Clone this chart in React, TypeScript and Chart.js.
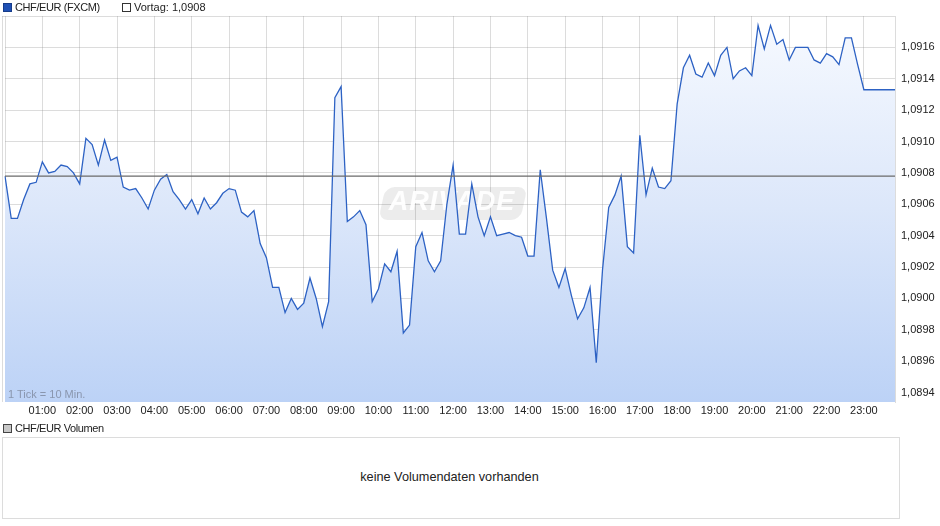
import React, { useEffect, useRef } from "react";
import { Chart, registerables } from "chart.js";
Chart.register(...registerables);

const FONT = "'Liberation Sans', Arial, sans-serif";

// 10-minute ticks from 00:00 to 23:50
const times: string[] = Array.from({ length: 144 }, (_, i) =>
  `${String(Math.floor(i / 6)).padStart(2, "0")}:${String((i % 6) * 10).padStart(2, "0")}`
);

const prices: number[] = [
  1.09078, 1.09051, 1.09051, 1.09063, 1.09073, 1.09074, 1.09087, 1.0908, 1.09081, 1.09085, 1.09084, 1.0908,
  1.09073, 1.09102, 1.09098, 1.09085, 1.09101, 1.09088, 1.0909, 1.09071, 1.09069, 1.0907, 1.09064, 1.09057,
  1.09069, 1.09076, 1.09079, 1.09068, 1.09063, 1.09057, 1.09063, 1.09054, 1.09064, 1.09057, 1.09061, 1.09067,
  1.0907, 1.09069, 1.09055, 1.09052, 1.09056, 1.09035, 1.09026, 1.09007, 1.09007, 1.08991, 1.09, 1.08993,
  1.08997, 1.09013, 1.09, 1.08982, 1.08998, 1.09128, 1.09135, 1.09049, 1.09052, 1.09056, 1.09047, 1.08998,
  1.09006, 1.09022, 1.09017, 1.0903, 1.08978, 1.08983, 1.09033, 1.09042, 1.09024, 1.09017, 1.09024, 1.0906,
  1.09085, 1.09041, 1.09041, 1.09073, 1.09052, 1.0904, 1.09052, 1.0904, 1.09041, 1.09042, 1.0904, 1.09039,
  1.09027, 1.09027, 1.09082, 1.09051, 1.09018, 1.09007, 1.09019, 1.09002, 1.08987, 1.08994, 1.09007, 1.08959,
  1.09018, 1.09058, 1.09066, 1.09078, 1.09033, 1.09029, 1.09104, 1.09066, 1.09083, 1.09071, 1.0907, 1.09075,
  1.09124, 1.09147, 1.09155, 1.09143, 1.09141, 1.0915, 1.09142, 1.09155, 1.0916, 1.0914, 1.09145, 1.09147,
  1.09142, 1.09174, 1.09159, 1.09174, 1.09162, 1.09165, 1.09152, 1.0916, 1.0916, 1.0916, 1.09152, 1.0915,
  1.09156, 1.09154, 1.09149, 1.09166, 1.09166, 1.09149, 1.09133, 1.09133, 1.09133, 1.09133, 1.09133, 1.09133,
];

const previousClose = 1.09078;
const yTicks: number[] = [1.0894, 1.0896, 1.0898, 1.09, 1.0902, 1.0904, 1.0906, 1.0908, 1.091, 1.0912, 1.0914, 1.0916];
const yMin = 1.08934;
const yMax = 1.0918;

const GRID = "rgba(150,150,150,0.33)";

const decorPlugin = {
  id: "decor",
  beforeDatasetsDraw(chart: any) {
    const ctx = chart.ctx as CanvasRenderingContext2D;
    ctx.save();
    ctx.translate(453, 203);
    ctx.transform(1, 0, -0.22, 1, 0, 0);
    ctx.fillStyle = "rgba(0,0,0,0.075)";
    ctx.beginPath();
    (ctx as any).roundRect(-71, -16, 142, 33, 9);
    ctx.fill();
    ctx.restore();
    ctx.save();
    ctx.font = `italic bold 27px ${FONT}`;
    ctx.fillStyle = "rgba(255,255,255,0.95)";
    ctx.textAlign = "center";
    ctx.textBaseline = "middle";
    (ctx as any).letterSpacing = "1px";
    ctx.fillText("ARIVADE", 452, 203);
    ctx.restore();
  },
  afterDraw(chart: any) {
    const ctx = chart.ctx as CanvasRenderingContext2D;
    const a = chart.chartArea;
    ctx.save();
    ctx.strokeStyle = GRID;
    ctx.lineWidth = 1;
    ctx.beginPath();
    ctx.moveTo(2, Math.round(a.top) + 0.5);
    ctx.lineTo(a.right, Math.round(a.top) + 0.5);
    ctx.moveTo(2.5, a.top);
    ctx.lineTo(2.5, a.bottom);
    ctx.stroke();
    ctx.restore();
  },
};

function PriceChart() {
  const ref = useRef<HTMLCanvasElement>(null);
  useEffect(() => {
    if (!ref.current) return;
    const chart = new Chart(ref.current, {
      type: "line",
      data: {
        labels: times,
        datasets: [
          {
            label: "Vortag",
            data: times.map(() => previousClose),
            borderColor: "#6a6a6a",
            borderWidth: 1.2,
            pointRadius: 0,
            fill: false,
            order: 0,
          },
          {
            label: "CHF/EUR (FXCM)",
            data: prices,
            borderColor: "#2d62c4",
            borderWidth: 1.3,
            pointRadius: 0,
            tension: 0,
            fill: "start",
            order: 1,
            backgroundColor: (c: any) => {
              const area = c.chart.chartArea;
              if (!area) return "rgba(200,218,248,0.8)";
              const g = c.chart.ctx.createLinearGradient(0, area.top, 0, area.bottom);
              g.addColorStop(0, "#f7faff");
              g.addColorStop(0.5, "#dce7fa");
              g.addColorStop(1, "#bcd2f6");
              return g;
            },
          },
        ],
      },
      options: {
        animation: false,
        responsive: false,
        maintainAspectRatio: false,
        layout: { padding: { left: 5, top: 16, right: 0, bottom: 0 } },
        plugins: { legend: { display: false }, tooltip: { enabled: false } },
        scales: {
          x: {
            type: "category",
            z: 1,
            grid: {
              drawTicks: false,
              color: (c: any) => (c.index % 6 === 0 ? GRID : "rgba(0,0,0,0)"),
            },
            border: { display: false },
            ticks: {
              autoSkip: false,
              maxRotation: 0,
              minRotation: 0,
              padding: 2,
              color: "#222",
              font: { family: FONT, size: 11 },
              callback: (_v: any, i: number) => (i % 6 === 0 && i > 0 ? times[i] : ""),
            },
            afterFit: (s: any) => {
              s.height = 18;
            },
          },
          y: {
            position: "right",
            min: yMin,
            max: yMax,
            z: 1,
            grid: { drawTicks: false, color: GRID },
            border: { display: true, color: GRID },
            ticks: {
              padding: 6,
              color: "#222",
              font: { family: FONT, size: 11 },
              callback: (v: any) => Number(v).toFixed(4).replace(".", ","),
            },
            afterBuildTicks: (s: any) => {
              s.ticks = yTicks.map((v) => ({ value: v }));
            },
            afterFit: (s: any) => {
              s.width = 45;
            },
          },
        },
      },
      plugins: [decorPlugin],
    } as any);
    return () => chart.destroy();
  }, []);
  return <canvas ref={ref} width={940} height={420} style={{ position: "absolute", left: 0, top: 0, width: 940, height: 420 }} />;
}

const box = (bg: string, border: string): React.CSSProperties => ({
  position: "absolute",
  width: 7,
  height: 7,
  background: bg,
  border: `1px solid ${border}`,
});

const txt: React.CSSProperties = {
  position: "absolute",
  fontFamily: FONT,
  fontSize: 11,
  color: "#222",
  lineHeight: "14px",
  whiteSpace: "nowrap",
};

export default function App() {
  return (
    <div style={{ position: "absolute", left: 0, top: 0, width: 940, height: 526, background: "#fff", overflow: "hidden" }}>
      <PriceChart />
      <div style={{ ...box("#1f50b4", "#163c8a"), left: 3, top: 3 }} />
      <div style={{ ...txt, left: 15, top: 0, letterSpacing: "-0.4px" }}>CHF/EUR (FXCM)</div>
      <div style={{ ...box("#fff", "#333"), left: 122, top: 3 }} />
      <div style={{ ...txt, left: 134, top: 0 }}>Vortag: 1,0908</div>
      <div style={{ ...txt, left: 8, top: 387, fontSize: 11, color: "rgba(120,130,150,0.75)" }}>1 Tick = 10 Min.</div>
      <div style={{ ...box("#c8c8c8", "#444"), left: 3, top: 424 }} />
      <div style={{ ...txt, left: 15, top: 421, letterSpacing: "-0.4px" }}>CHF/EUR Volumen</div>
      <div
        style={{
          position: "absolute",
          left: 2,
          top: 437,
          width: 896,
          height: 80,
          border: "1px solid #dcdcdc",
        }}
      />
      <div style={{ ...txt, left: 0, width: 899, textAlign: "center", top: 470, fontSize: 12.7 }}>
        keine Volumendaten vorhanden
      </div>
    </div>
  );
}
